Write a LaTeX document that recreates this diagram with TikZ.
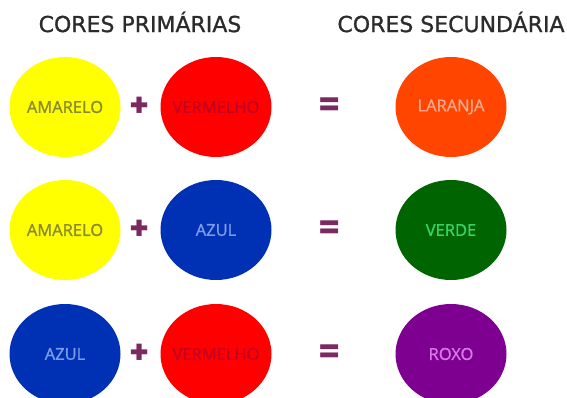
\documentclass[tikz,border=0pt]{standalone}
\usepackage{fontspec}
\setmainfont{Open Sans}
\newfontfamily\medio{Open Sans}[FakeBold=1.2]
\newfontfamily\titfont{DejaVu Sans}[FakeBold=1]
\newfontfamily\sinais{Poppins}
\usetikzlibrary{shapes.geometric}
\definecolor{amarelo}{HTML}{FFFF00}
\definecolor{vermelho}{HTML}{FF0000}
\definecolor{azul}{HTML}{0030B4}
\definecolor{laranja}{HTML}{FF4500}
\definecolor{verde}{HTML}{006400}
\definecolor{roxo}{HTML}{7E0090}
\definecolor{txtamarelo}{HTML}{8A8A2E}
\definecolor{txtvermelho}{HTML}{C40020}
\definecolor{txtazul}{HTML}{7C9CE6}
\definecolor{txtlaranja}{HTML}{F6A88C}
\definecolor{txtverde}{HTML}{36D26C}
\definecolor{txtroxo}{HTML}{D877E6}
\definecolor{sinalcor}{HTML}{7A2A60}
\definecolor{titcor}{HTML}{2B2B2B}

\begin{document}
\begin{tikzpicture}[x=1pt, y=-1pt,
    blob/.style={ellipse, minimum width=111pt, minimum height=100pt, inner sep=0pt},
    lbl/.style={font=\medio\fontsize{16.5}{16.5}\selectfont, inner sep=0pt},
    sinal/.style={font=\sinais\fontsize{32}{32}\selectfont\bfseries, text=sinalcor, inner sep=0pt},
    titulo/.style={font=\titfont\fontsize{22}{22}\selectfont, text=titcor, inner sep=0pt}]
  \useasboundingbox (0,0) rectangle (567,398);
  \clip (0,0) rectangle (567,398);

  % titulos
  \node[titulo] (prim) at (140,22) {CORES PRIMÁRIAS};
  \node[titulo] (sec) at (451,22) {CORES SECUNDÁRIA};

  % linha 1
  \node[blob, fill=amarelo, label={[lbl, text=txtamarelo]center:AMARELO}] (am1) at (65,107) {};
  \node[blob, fill=vermelho, label={[lbl, text=txtvermelho]center:VERMELHO}] (ve1) at (216,107) {};
  \node[blob, fill=laranja, label={[lbl, text=txtlaranja]center:LARANJA}] (la) at (451,107) {};
  \node[sinal] (mais1) at (140,107) {+};
  \node[sinal] (igual1) at (330,107) {=};

  % linha 2
  \node[blob, fill=amarelo, label={[lbl, text=txtamarelo]center:AMARELO}] (am2) at (65,230) {};
  \node[blob, fill=azul, label={[lbl, text=txtazul]center:AZUL}] (az2) at (216,230) {};
  \node[blob, fill=verde, label={[lbl, text=txtverde]center:VERDE}] (vd) at (451,230) {};
  \node[sinal] (mais2) at (140,230) {+};
  \node[sinal] (igual2) at (330,230) {=};

  % linha 3
  \node[blob, fill=azul, label={[lbl, text=txtazul]center:AZUL}] (az3) at (65,354) {};
  \node[blob, fill=vermelho, label={[lbl, text=txtvermelho]center:VERMELHO}] (ve3) at (216,354) {};
  \node[blob, fill=roxo, label={[lbl, text=txtroxo]center:ROXO}] (rx) at (451,354) {};
  \node[sinal] (mais3) at (140,354) {+};
  \node[sinal] (igual3) at (330,354) {=};
\end{tikzpicture}
\end{document}
